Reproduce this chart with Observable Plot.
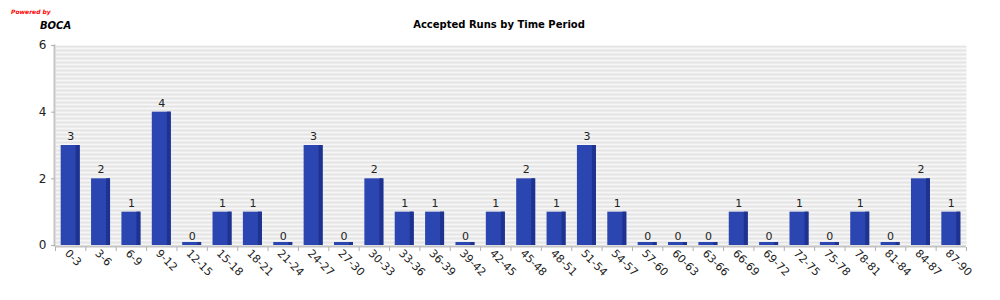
<!DOCTYPE html>
<html>
<head>
<meta charset="utf-8">
<script src="https://cdn.jsdelivr.net/npm/d3@7"></script>
<script src="https://cdn.jsdelivr.net/npm/@observablehq/plot@0.6"></script>
<style>
  body { margin: 0; background: #fff; font-family: "DejaVu Sans", sans-serif; }
  #wrap { position: relative; width: 1000px; height: 300px; }
  .ov { position: absolute; white-space: nowrap; }
  #powered { left: 11px; top: 8px; font-size: 6px; color: #ff0000; font-style: italic; font-weight: bold; }
  #boca { left: 40px; top: 20px; font-size: 10px; font-weight: bold; font-style: italic; color: #000; }
  #title { left: 0; width: 998px; top: 19px; text-align: center; font-size: 10px; font-weight: bold; color: #000; }
</style>
</head>
<body>
<div id="wrap">
  <div id="chart"></div>
  <div class="ov" id="powered">Powered by</div>
  <div class="ov" id="boca">BOCA</div>
  <div class="ov" id="title">Accepted Runs by Time Period</div>
</div>
<script>
const periods = ["0-3","3-6","6-9","9-12","12-15","15-18","18-21","21-24","24-27","27-30",
  "30-33","33-36","36-39","39-42","42-45","45-48","48-51","51-54","54-57","57-60",
  "60-63","63-66","66-69","69-72","72-75","75-78","78-81","81-84","84-87","87-90"];
const runs = [3,2,1,4,0,1,1,0,3,0,2,1,1,0,1,2,1,3,1,0,0,0,1,0,1,0,1,0,2,1];
const yTicks = [0,2,4,6];

const data = periods.map((p, i) => ({period: p, runs: runs[i]}));
const nonzero = data.filter(d => d.runs > 0);
const zero = data.filter(d => d.runs === 0);

const half = 911 / 30 / 2;
const face = "#2b46b1";
const side = "#1e3290";

const chart = Plot.plot({
  width: 1000,
  height: 300,
  marginLeft: 55,
  marginRight: 34,
  marginTop: 45,
  marginBottom: 55,
  style: {fontFamily: "DejaVu Sans, sans-serif", fontSize: "11px", background: "transparent"},
  x: {domain: periods, paddingInner: 0.375, paddingOuter: 0.1875, round: false, label: null},
  y: {domain: [0, 6], label: null},
  marks: [
    Plot.frame({fill: "url(#stripes)", stroke: "none"}),
    Plot.barY(nonzero, {x: "period", y: "runs", fill: face}),
    Plot.barY(nonzero, {x: "period", y: "runs", fill: side, insetLeft: 15}),
    Plot.rectY(zero, {x: "period", y1: 0, y2: 0, insetTop: -3, fill: face}),
    Plot.rectY(zero, {x: "period", y1: 0, y2: 0, insetTop: -3, insetLeft: 15, fill: side}),
    Plot.text(data, {x: "period", y: "runs", text: d => String(d.runs), dy: -9, fontSize: 11, fill: "#222"}),
    Plot.ruleY([0], {stroke: "#c4c4c4", strokeWidth: 2, dy: 1}),
    Plot.frame({anchor: "left", stroke: "#c4c4c4", strokeWidth: 2, dx: -1}),
    Plot.axisY({ticks: yTicks, tickSize: 4, tickFormat: d => String(d), stroke: "#b0b0b0", fontSize: 12, fill: "#222", dx: 0}),
    Plot.axisX({ticks: periods, tickSize: 4, text: null, stroke: "#b0b0b0", dx: -half, dy: 2}),
    Plot.axisX({ticks: periods.slice(-1), tickSize: 4, text: null, stroke: "#b0b0b0", dx: half, dy: 2}),
    Plot.axisX({ticks: periods, tickSize: 0, tickRotate: 45, tickPadding: 6, fontSize: 11, fill: "#222", dx: -4})
  ]
});

const defs = document.createElementNS("http://www.w3.org/2000/svg", "defs");
defs.innerHTML = '<pattern id="stripes" patternUnits="userSpaceOnUse" x="0" y="45" width="8" height="4">' +
  '<rect width="8" height="4" fill="#f6f6f6"/><rect width="8" height="2" fill="#e4e4e4"/></pattern>';
chart.insertBefore(defs, chart.firstChild);
document.getElementById("chart").appendChild(chart);
</script>
</body>
</html>
